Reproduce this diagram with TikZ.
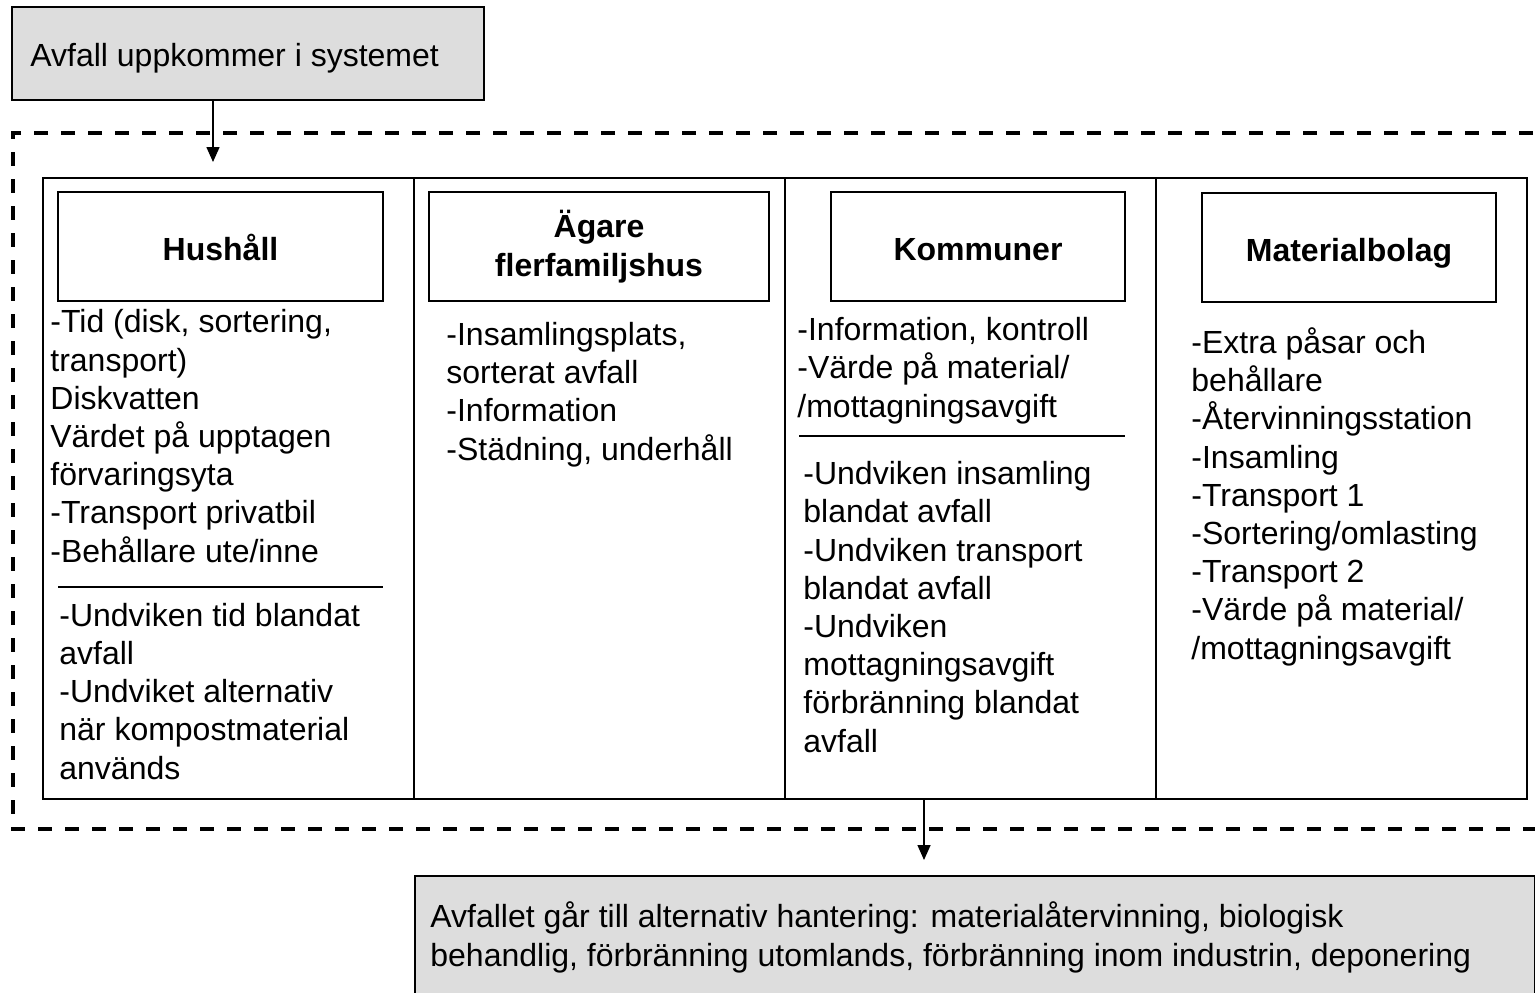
\documentclass[tikz,border=0pt]{standalone}
\usepackage{fontspec}
\setmainfont{Liberation Sans}
\usetikzlibrary{arrows.meta}
\definecolor{boxgray}{HTML}{DDDDDD}
\tikzset{>={Triangle[length=7.5pt,width=6.5pt]}}
\tikzset{
  col/.style={draw, line width=1pt, inner sep=0pt, minimum width=185.5pt, minimum height=310.5pt},
  head/.style={draw, line width=1pt, inner sep=0pt, minimum height=54.5pt, align=center, font=\fontsize{16}{19.5}\selectfont\bfseries},
  onehead/.style={head, text height=14pt, text depth=0pt},
  txt/.style={inner sep=0pt, align=left, anchor=base west, font=\fontsize{16}{19.1}\selectfont},
  greybox/.style={draw, fill=boxgray, line width=1pt, inner sep=0pt},
  frame/.style={line width=2pt, dash pattern=on 7pt off 6.5pt},
  sep/.style={line width=0.75pt},
}

\begin{document}
\begin{tikzpicture}[x=0.5pt,y=-0.5pt]
    \clip (0,0) rectangle (1535,992);
    \node[greybox, minimum width=236pt, minimum height=46.5pt] (start) at (248,53.5) {};
    \node[txt] (starttxt) at (30,66) {Avfall uppkommer i systemet};
    \coordinate (in) at (213,162);
    \draw[frame] (1560,133) -| (13,829) -- (1560,829);
    \draw[->, line width=0.75pt] (start.south -| in) -- (in);

    \node[col] (hus) at (228.5,488.5) {};
    \node[col] (agare) at (599.5,488.5) {};
    \node[col] (kom) at (970.5,488.5) {};
    \node[col] (mat) at (1341.5,488.5) {};

    \node[onehead, minimum width=162.5pt] (hushead) at (220.5,246.5) {Hushåll};
    \node[head, minimum width=170pt] (agarehead) at (599,246.5) {Ägare\\flerfamiljshus};
    \node[onehead, minimum width=147pt] (komhead) at (978,246) {Kommuner};
    \node[onehead, minimum width=147pt] (mathead) at (1349,247) {Materialbolag};

    \node[txt] (husup) at (50,562) {-Tid (disk, sortering,\\transport)\\Diskvatten\\Värdet på upptagen\\förvaringsyta\\-Transport privatbil\\-Behållare ute/inne};
    \draw[sep] (58,587) -- (383,587);
    \node[txt] (huslow) at (59,779) {-Undviken tid blandat\\avfall\\-Undviket alternativ\\när kompostmaterial\\används};
    \node[txt] (agaretxt) at (446,460) {-Insamlingsplats,\\sorterat avfall\\-Information\\-Städning, underhåll};
    \node[txt] (komup) at (797,417) {-Information, kontroll\\-Värde på material/\\/mottagningsavgift};
    \draw[sep] (799,436) -- (1125,436);
    \node[txt] (komlow) at (803,752) {-Undviken insamling\\blandat avfall\\-Undviken transport\\blandat avfall\\-Undviken\\mottagningsavgift\\förbränning blandat\\avfall};
    \node[txt] (mattxt) at (1191,659) {-Extra påsar och\\behållare\\-Återvinningsstation\\-Insamling\\-Transport 1\\-Sortering/omlasting\\-Transport 2\\-Värde på material/\\/mottagningsavgift};

    \coordinate (out) at (924,860);
    \draw[->, line width=0.75pt] (kom.south -| out) -- (out);
    \node[greybox, anchor=north west, minimum width=560pt, minimum height=70pt] (dest) at (414,875) {};
    \node[txt] (desttxt) at (430,966) {Avfallet går till alternativ hantering: materialåtervinning, biologisk\\behandlig, förbränning utomlands, förbränning inom industrin, deponering};
\end{tikzpicture}
\end{document}
